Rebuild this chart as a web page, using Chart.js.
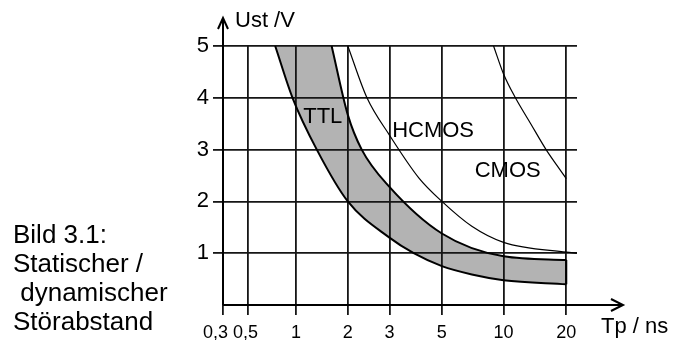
<!DOCTYPE html>
<html>
<head>
<meta charset="utf-8">
<script src="https://cdn.jsdelivr.net/npm/chart.js@4.4.0/dist/chart.umd.min.js"></script>
<style>
  html, body { margin: 0; padding: 0; background: #fff; }
  #wrap { position: relative; width: 682px; height: 340px; }
  #caption {
    position: absolute; left: 13px; top: 220px;
    font: 26px "Liberation Sans", Arial, sans-serif; line-height: 29px;
    color: #000; white-space: pre;
  }
</style>
</head>
<body>
<div id="wrap">
  <canvas id="chart" width="682" height="340"></canvas>
  <div id="caption">Bild 3.1:
Statischer /
 dynamischer
Störabstand</div>
</div>
<script>
// Achsen
const tpTicks = [0.3, 0.5, 1, 2, 3, 5, 10, 20];
const tpTickLabels = ['0,3\u00a0\u00a0\u00a0', '0,5\u00a0', '1', '2', '3', '5', '10', '20'];
const tpMax = 22.5;
const ustTicks = [0, 1, 2, 3, 4, 5];

// TTL-Band: untere und obere Grenze
const ttlLowTp = [0.74, 0.95, 1.32, 2.0, 3.0, 3.8, 5, 7, 10, 20];
const ttlLowU  = [5.0, 4.0, 3.0, 2.0, 1.3, 1.0, 0.75, 0.59, 0.48, 0.40];
const ttlHighTp = [1.61, 2.0, 2.29, 3.0, 5, 10, 20];
const ttlHighU  = [5.0, 3.67, 3.0, 2.28, 1.38, 0.94, 0.87];
// oberer Abschluss des Bandes bei 5 V (etwas überlappend, damit keine Naht bleibt)
const ttlTopTp = [0.74, 1.63];
const ttlTopU  = [5.0, 5.0];

// HCMOS
const hcmosTp = [2.0, 2.41, 3.0, 4.0, 5, 7, 10, 20, 22.5];
const hcmosU  = [5.0, 4.0, 3.28, 2.45, 2.0, 1.52, 1.21, 1.02, 1.0];

// CMOS
const cmosTp = [8.94, 10, 11.4, 13.5, 16, 18, 20];
const cmosU  = [5.0, 4.46, 4.0, 3.5, 3.0, 2.7, 2.44];

// Beschriftungen im Diagramm
const curveNames = ['TTL', 'HCMOS', 'CMOS'];
const curveNameTp = [1.43, 4.59, 10.47];
const curveNameU = [3.63, 3.36, 2.58];

// Lage der Teilstriche auf der Tp-Achse (Anteil der Breite)
const tpSlots = [0, 0.0707, 0.2064, 0.3526, 0.4702, 0.6183, 0.7925, 0.9697, 1];

const FONT = '"Liberation Sans", Arial, sans-serif';
const pts = (xs, ys) => xs.map((x, i) => ({ x: x, y: ys[i] }));

// Tp-Achse: logarithmisch zwischen den Teilstrichen, Abstände wie im Bild
class TpScale extends Chart.LogarithmicScale {
  buildTicks() {
    return tpTicks.map(v => ({ value: v }));
  }
  getPixelForValue(value) {
    const knots = tpTicks.concat([tpMax]);
    if (!(value > 0)) return this.getPixelForDecimal(0);
    let i = 0;
    while (i < knots.length - 2 && value > knots[i + 1]) i++;
    const t = Math.log(value / knots[i]) / Math.log(knots[i + 1] / knots[i]);
    return this.getPixelForDecimal(tpSlots[i] + t * (tpSlots[i + 1] - tpSlots[i]));
  }
  getValueForPixel(pixel) {
    const knots = tpTicks.concat([tpMax]);
    const d = this.getDecimalForPixel(pixel);
    let i = 0;
    while (i < tpSlots.length - 2 && d > tpSlots[i + 1]) i++;
    const t = (d - tpSlots[i]) / (tpSlots[i + 1] - tpSlots[i]);
    return knots[i] * Math.pow(knots[i + 1] / knots[i], t);
  }
}
TpScale.id = 'tp';
TpScale.defaults = {};
Chart.register(TpScale);

const curveLabels = {
  id: 'curveLabels',
  afterDatasetsDraw(chart) {
    const { ctx, scales: { x, y } } = chart;
    ctx.save();
    ctx.fillStyle = '#000';
    ctx.font = '22px ' + FONT;
    ctx.textAlign = 'center';
    ctx.textBaseline = 'middle';
    curveNames.forEach((name, i) => {
      ctx.fillText(name, x.getPixelForValue(curveNameTp[i]), y.getPixelForValue(curveNameU[i]));
    });
    ctx.restore();
  }
};

const axisArrows = {
  id: 'axisArrows',
  afterDraw(chart) {
    const { ctx, chartArea: a } = chart;
    const yTip = a.top - 28;
    const xTip = a.right + 46;
    ctx.save();
    ctx.strokeStyle = '#000';
    ctx.lineWidth = 2;
    ctx.beginPath();
    ctx.moveTo(a.left, a.bottom);
    ctx.lineTo(a.left, yTip);
    ctx.moveTo(a.left - 5, yTip + 11);
    ctx.lineTo(a.left, yTip);
    ctx.lineTo(a.left + 5, yTip + 11);
    ctx.moveTo(a.left, a.bottom);
    ctx.lineTo(xTip, a.bottom);
    ctx.moveTo(xTip - 12, a.bottom - 6);
    ctx.lineTo(xTip, a.bottom);
    ctx.lineTo(xTip - 12, a.bottom + 6);
    ctx.stroke();

    ctx.fillStyle = '#000';
    ctx.font = '22px ' + FONT;
    ctx.textAlign = 'left';
    ctx.textBaseline = 'middle';
    ctx.fillText('Ust /V', a.left + 12, yTip + 3);
    ctx.fillText('Tp / ns', a.right + 24, a.bottom + 22);
    ctx.restore();
  }
};

const gridColor = '#161616';
const bandColor = '#b3b3b3';

// Das Füllziel (untere TTL-Grenze) muss hinter den gefüllten Linien stehen,
// damit seine Kontrollpunkte schon berechnet sind, wenn gefüllt wird.
new Chart(document.getElementById('chart'), {
  type: 'line',
  data: {
    datasets: [
      {
        label: 'HCMOS',
        data: pts(hcmosTp, hcmosU),
        borderColor: '#000',
        borderWidth: 1.2,
        fill: false,
        pointRadius: 0,
        cubicInterpolationMode: 'monotone'
      },
      {
        label: 'CMOS',
        data: pts(cmosTp, cmosU),
        borderColor: '#000',
        borderWidth: 1.2,
        fill: false,
        pointRadius: 0,
        cubicInterpolationMode: 'monotone'
      },
      {
        label: 'TTL oben',
        data: pts(ttlHighTp, ttlHighU),
        borderColor: '#000',
        borderWidth: 2,
        backgroundColor: bandColor,
        fill: '+2',
        pointRadius: 0,
        cubicInterpolationMode: 'monotone'
      },
      {
        label: 'TTL Kappe',
        data: pts(ttlTopTp, ttlTopU),
        borderWidth: 0,
        borderColor: 'rgba(0,0,0,0)',
        backgroundColor: bandColor,
        fill: '+1',
        pointRadius: 0
      },
      {
        label: 'TTL unten',
        data: pts(ttlLowTp, ttlLowU),
        borderColor: '#000',
        borderWidth: 2,
        fill: false,
        pointRadius: 0,
        cubicInterpolationMode: 'monotone'
      },
      {
        label: 'TTL Rand',
        data: pts([20, 20], [ttlLowU[ttlLowU.length - 1], ttlHighU[ttlHighU.length - 1]]),
        borderColor: '#000',
        borderWidth: 2,
        fill: false,
        pointRadius: 0
      }
    ]
  },
  options: {
    responsive: false,
    animation: false,
    layout: { padding: { left: 0, top: 46, right: 105, bottom: 0 } },
    scales: {
      x: {
        type: 'tp',
        min: 0.3,
        max: tpMax,
        border: { display: false },
        grid: { color: gridColor, lineWidth: 1.8, tickLength: 10 },
        ticks: {
          autoSkip: false,
          maxRotation: 0,
          minRotation: 0,
          padding: 7,
          color: '#000',
          font: { family: FONT, size: 18 },
          callback: (v, i) => tpTickLabels[i]
        },
        afterFit: s => { s.height = 35; }
      },
      y: {
        min: 0,
        max: 5,
        border: { display: false },
        afterBuildTicks: s => { s.ticks = ustTicks.map(v => ({ value: v })); },
        grid: {
          color: c => (c.tick && c.tick.value === 0 ? 'rgba(0,0,0,0)' : gridColor),
          lineWidth: 1.8,
          tickLength: 10
        },
        ticks: {
          padding: 4,
          color: '#000',
          font: { family: FONT, size: 22 },
          callback: v => (v === 0 ? '' : String(v))
        },
        afterFit: s => { s.width = 223; }
      }
    },
    plugins: {
      legend: { display: false },
      tooltip: { enabled: false },
      filler: { drawTime: 'beforeDraw' }
    }
  },
  plugins: [curveLabels, axisArrows]
});
</script>
</body>
</html>
